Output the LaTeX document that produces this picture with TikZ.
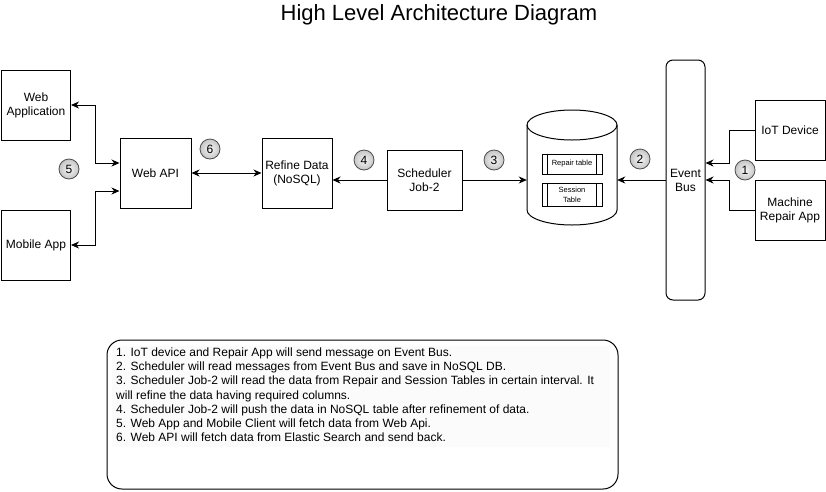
\documentclass[tikz,border=0pt]{standalone}
\usepackage{fontspec}
\setmainfont{Liberation Sans}
\usetikzlibrary{arrows.meta,calc}
\begin{document}
\begin{tikzpicture}[x=1pt,y=-1pt,
  box/.style={draw, line width=1pt, inner sep=0pt, align=center, font=\fontsize{12}{14}\selectfont},
  tbl/.style={draw, line width=0.8pt, inner sep=0pt, align=center, minimum width=60pt, font=\fontsize{7.5}{10}\selectfont},
  arr/.style={line width=1pt, -{Stealth[length=8pt,width=7pt,inset=2.5pt]}},
  arrs/.style={line width=1pt, {Stealth[length=8pt,width=7pt,inset=2.5pt]}-{Stealth[length=8pt,width=7pt,inset=2.5pt]}},
  num/.style={circle, draw=gray!60!black, line width=0.8pt, inner sep=0pt, minimum size=20pt,
    inner color=gray!8, outer color=gray!45, font=\fontsize{12}{14}\selectfont}
]
\useasboundingbox[fill=white] (0,0) rectangle (826,491);

% title
\node[font=\fontsize{22}{26}\selectfont] (title) at (439,15) {High Level Architecture Diagram};

% boxes
\node[box, minimum width=69pt, minimum height=70pt] (webapp) at (36,105) {Web\\Application};
\node[box, minimum width=69pt, minimum height=70pt] (mobile) at (36,245) {Mobile App};
\node[box, minimum width=71pt, minimum height=70pt] (webapi) at (155.5,173) {Web API};
\node[box, minimum width=70pt, minimum height=70pt] (refine) at (297,173) {Refine Data\\(NoSQL)};
\node[box, minimum width=75pt, minimum height=60pt] (sched) at (424.5,180) {Scheduler\\Job-2};
\node[box, minimum width=39pt, minimum height=240pt, rounded corners=7pt] (bus) at (685.5,180) {Event\\Bus};
\node[box, minimum width=70pt, minimum height=60pt] (iot) at (790,130) {IoT Device};
\node[box, minimum width=70pt, minimum height=60pt] (machine) at (790,210) {Machine\\Repair App};

% database cylinder
\node[minimum width=90pt, minimum height=115pt, inner sep=0pt] (db) at (572,167.5) {};
\draw[line width=1pt, fill=white] (527,125) -- (527,210)
  arc[start angle=180, end angle=360, x radius=45pt, y radius=15pt] -- (617,125)
  arc[start angle=0, end angle=180, x radius=45pt, y radius=15pt] -- cycle;
\draw[line width=1pt] (527,125) arc[start angle=180, end angle=360, x radius=45pt, y radius=15pt];

\node[tbl, minimum height=20pt] (repair) at (572,164) {Repair table};
\node[tbl, minimum height=23pt] (session) at (572,194.5) {Session\\Table};
\foreach \t in {repair,session}{
  \draw[line width=0.8pt] ([xshift=6pt]\t.north west) -- ([xshift=6pt]\t.south west);
  \draw[line width=0.8pt] ([xshift=-6pt]\t.north east) -- ([xshift=-6pt]\t.south east);
}

% connectors
\draw[arr] (iot.west) -- ++(-25,0) |- ([yshift=17pt]bus.east);
\draw[arr] (machine.west) -- ++(-25,0) |- (bus.east);
\draw[arr] (bus.west) -- (bus.west -| db.east);
\draw[arr] (sched.east) -- (sched.east -| db.west);
\draw[arr] (sched.west) -- (sched.west -| refine.east);
\draw[arrs] (webapi.east) -- (refine.west);
\draw[arrs] ([yshift=10pt]webapi.west) -- ++(-24,0) |- (webapp.east);
\draw[arrs] ([yshift=-18pt]webapi.west) -- ++(-24,0) |- (mobile.east);

% numbered markers
\node[num] (n1) at (745,170) {1};
\node[num] (n2) at (640,159) {2};
\node[num] (n3) at (494,160) {3};
\node[num] (n4) at (364,160) {4};
\node[num] (n5) at (69,169) {5};
\node[num] (n6) at (210,149) {6};

% notes
\node[draw, line width=1pt, rounded corners=15pt, minimum width=511pt, minimum height=149pt, inner sep=0pt] (notes) at (362.5,414.5) {};
\fill[gray!3] (112,346) rectangle (610,447);
\node[anchor=north west, inner sep=0pt, align=left, font=\fontsize{12}{14.2}\selectfont] (notetext) at (116,347.5) {%
1. IoT device and Repair App will send message on Event Bus.\\
2. Scheduler will read messages from Event Bus and save in NoSQL DB.\\
3. Scheduler Job-2 will read the data from Repair and Session Tables in certain interval. It\\
will refine the data having required columns.\\
4. Scheduler Job-2 will push the data in NoSQL table after refinement of data.\\
5. Web App and Mobile Client will fetch data from Web Api.\\
6. Web API will fetch data from Elastic Search and send back.};
\end{tikzpicture}
\end{document}
